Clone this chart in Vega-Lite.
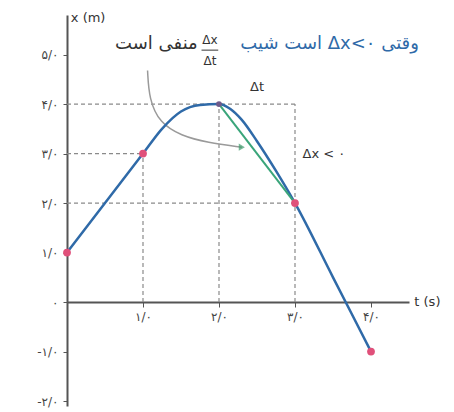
{
  "$schema": "https://vega.github.io/schema/vega-lite/v6.json",
  "autosize": {"type": "none"},
  "padding": {"left": 67, "top": 15, "right": 45, "bottom": 6},
  "width": 342,
  "height": 391,
  "background": "white",
  "config": {
    "view": {"stroke": null},
    "font": "DejaVu Sans"
  },
  "datasets": {
    "curve": [
      {"t": 0, "x": 1},
      {"t": 0.5, "x": 2},
      {"t": 1, "x": 3},
      {"t": 1.25, "x": 3.5},
      {"t": 1.5, "x": 3.85},
      {"t": 1.75, "x": 3.98},
      {"t": 2, "x": 4},
      {"t": 2.15, "x": 3.9},
      {"t": 2.3, "x": 3.68},
      {"t": 2.5, "x": 3.25},
      {"t": 2.75, "x": 2.65},
      {"t": 3, "x": 2},
      {"t": 3.5, "x": 0.5},
      {"t": 4, "x": -1}
    ],
    "points": [
      {"t": 0, "x": 1},
      {"t": 1, "x": 3},
      {"t": 3, "x": 2},
      {"t": 4, "x": -1}
    ],
    "guides": [
      {"t1": 0, "x1": 4, "t2": 3, "x2": 4},
      {"t1": 0, "x1": 3, "t2": 1, "x2": 3},
      {"t1": 0, "x1": 2, "t2": 3, "x2": 2},
      {"t1": 1, "x1": 0, "t2": 1, "x2": 3},
      {"t1": 2, "x1": 0, "t2": 2, "x2": 4},
      {"t1": 3, "x1": 0, "t2": 3, "x2": 4}
    ],
    "chord": [
      {"t": 2, "x": 4},
      {"t": 3, "x": 2}
    ],
    "arrow": [
      {"i": 0, "t": 1.06, "x": 4.68},
      {"i": 1, "t": 1.08, "x": 4.1},
      {"i": 2, "t": 1.22, "x": 3.62},
      {"i": 3, "t": 1.5, "x": 3.36},
      {"i": 4, "t": 1.85, "x": 3.22},
      {"i": 5, "t": 2.3, "x": 3.13}
    ]
  },
  "encoding": {
    "x": {
      "type": "quantitative",
      "scale": {"domain": [0, 4.5], "nice": false, "zero": false}
    },
    "y": {
      "type": "quantitative",
      "scale": {"domain": [-2.1, 5.8], "nice": false, "zero": false}
    }
  },
  "layer": [
    {
      "data": {"name": "guides"},
      "mark": {"type": "rule", "color": "#8a8a8a", "strokeDash": [4, 3], "strokeWidth": 1.2},
      "encoding": {
        "x": {"field": "t1", "type": "quantitative", "title": null,
          "axis": {
            "orient": "bottom", "offset": -104, "values": [1, 2, 3, 4],
            "domainColor": "#555", "domainWidth": 2, "tickColor": "#555", "tickSize": 5,
            "grid": false, "labelFontSize": 12, "labelColor": "#444", "labelPadding": 4,
            "labelExpr": "datum.value==1?'۱/۰':datum.value==2?'۲/۰':datum.value==3?'۳/۰':'۴/۰'"
          }
        },
        "x2": {"field": "t2"},
        "y": {"field": "x1", "type": "quantitative", "title": null,
          "axis": {
            "orient": "left", "values": [-2, -1, 0, 1, 2, 3, 4, 5],
            "domainColor": "#555", "domainWidth": 2, "tickColor": "#555", "tickSize": 4,
            "grid": false, "labelFontSize": 12, "labelColor": "#444", "labelPadding": 5,
            "labelExpr": "datum.value==5?'۵/۰':datum.value==4?'۴/۰':datum.value==3?'۳/۰':datum.value==2?'۲/۰':datum.value==1?'۱/۰':datum.value==0?'۰':datum.value==-1?'-۱/۰':'-۲/۰'"
          }
        },
        "y2": {"field": "x2"}
      }
    },
    {
      "data": {"name": "arrow"},
      "mark": {"type": "line", "color": "#9a9a9a", "strokeWidth": 1.5, "interpolate": "basis"},
      "encoding": {
        "x": {"field": "t", "type": "quantitative"},
        "y": {"field": "x", "type": "quantitative"},
        "order": {"field": "i"}
      }
    },
    {
      "data": {"name": "arrow"},
      "transform": [{"filter": "datum.i == 5"}],
      "mark": {"type": "point", "shape": "triangle-right", "filled": true, "color": "#3a9a6a", "size": 50},
      "encoding": {
        "x": {"field": "t", "type": "quantitative"},
        "y": {"field": "x", "type": "quantitative"}
      }
    },
    {
      "data": {"name": "curve"},
      "mark": {"type": "line", "color": "#2f6aa8", "strokeWidth": 2.5, "interpolate": "monotone"},
      "encoding": {
        "x": {"field": "t", "type": "quantitative"},
        "y": {"field": "x", "type": "quantitative"}
      }
    },
    {
      "data": {"name": "chord"},
      "mark": {"type": "line", "color": "#3aa57a", "strokeWidth": 2},
      "encoding": {
        "x": {"field": "t", "type": "quantitative"},
        "y": {"field": "x", "type": "quantitative"}
      }
    },
    {
      "data": {"name": "points"},
      "mark": {"type": "circle", "color": "#e0507a", "size": 60, "opacity": 1},
      "encoding": {
        "x": {"field": "t", "type": "quantitative"},
        "y": {"field": "x", "type": "quantitative"}
      }
    },
    {
      "data": {"name": "chord"},
      "transform": [{"filter": "datum.t == 2"}],
      "mark": {"type": "circle", "color": "#6e5a8a", "size": 35, "opacity": 1},
      "encoding": {
        "x": {"field": "t", "type": "quantitative"},
        "y": {"field": "x", "type": "quantitative"}
      }
    },
    {
      "data": {"values": [
        {"t": 2.5, "x": 4.35, "label": "Δt"}
      ]},
      "mark": {"type": "text", "fontSize": 13, "baseline": "middle", "align": "center", "color": "#333"},
      "encoding": {
        "x": {"field": "t", "type": "quantitative"},
        "y": {"field": "x", "type": "quantitative"},
        "text": {"field": "label"}
      }
    },
    {
      "data": {"values": [
        {"t": 0.05, "x": 5.73, "label": "x (m)"},
        {"t": 4.57, "x": 0, "label": "t (s)"},
        {"t": 3.1, "x": 3.0, "label": "Δx < ۰"}
      ]},
      "mark": {"type": "text", "fontSize": 13, "baseline": "middle", "align": "left", "color": "#333"},
      "encoding": {
        "x": {"field": "t", "type": "quantitative"},
        "y": {"field": "x", "type": "quantitative"},
        "text": {"field": "label"}
      }
    },
    {
      "data": {"values": [{"t": 4.63, "x": 5.21, "label": "است شیب Δx<۰‎ وقتی"}]},
      "mark": {"type": "text", "fontSize": 18, "baseline": "middle", "align": "right", "color": "#2f6aa8"},
      "encoding": {
        "x": {"field": "t", "type": "quantitative"},
        "y": {"field": "x", "type": "quantitative"},
        "text": {"field": "label"}
      }
    },
    {
      "data": {"values": [{"t": 1.72, "x": 5.21, "label": "منفی است"}]},
      "mark": {"type": "text", "fontSize": 18, "baseline": "middle", "align": "right", "color": "#333"},
      "encoding": {
        "x": {"field": "t", "type": "quantitative"},
        "y": {"field": "x", "type": "quantitative"},
        "text": {"field": "label"}
      }
    },
    {
      "data": {"values": [
        {"t": 1.88, "x": 5.3, "label": "Δx"},
        {"t": 1.88, "x": 4.88, "label": "Δt"}
      ]},
      "mark": {"type": "text", "fontSize": 12, "baseline": "middle", "align": "center", "color": "#333"},
      "encoding": {
        "x": {"field": "t", "type": "quantitative"},
        "y": {"field": "x", "type": "quantitative"},
        "text": {"field": "label"}
      }
    },
    {
      "data": {"values": [{"t1": 1.77, "t2": 1.99, "x": 5.09}]},
      "mark": {"type": "rule", "color": "#333", "strokeWidth": 1},
      "encoding": {
        "x": {"field": "t1", "type": "quantitative"},
        "x2": {"field": "t2"},
        "y": {"field": "x", "type": "quantitative"}
      }
    }
  ]
}
